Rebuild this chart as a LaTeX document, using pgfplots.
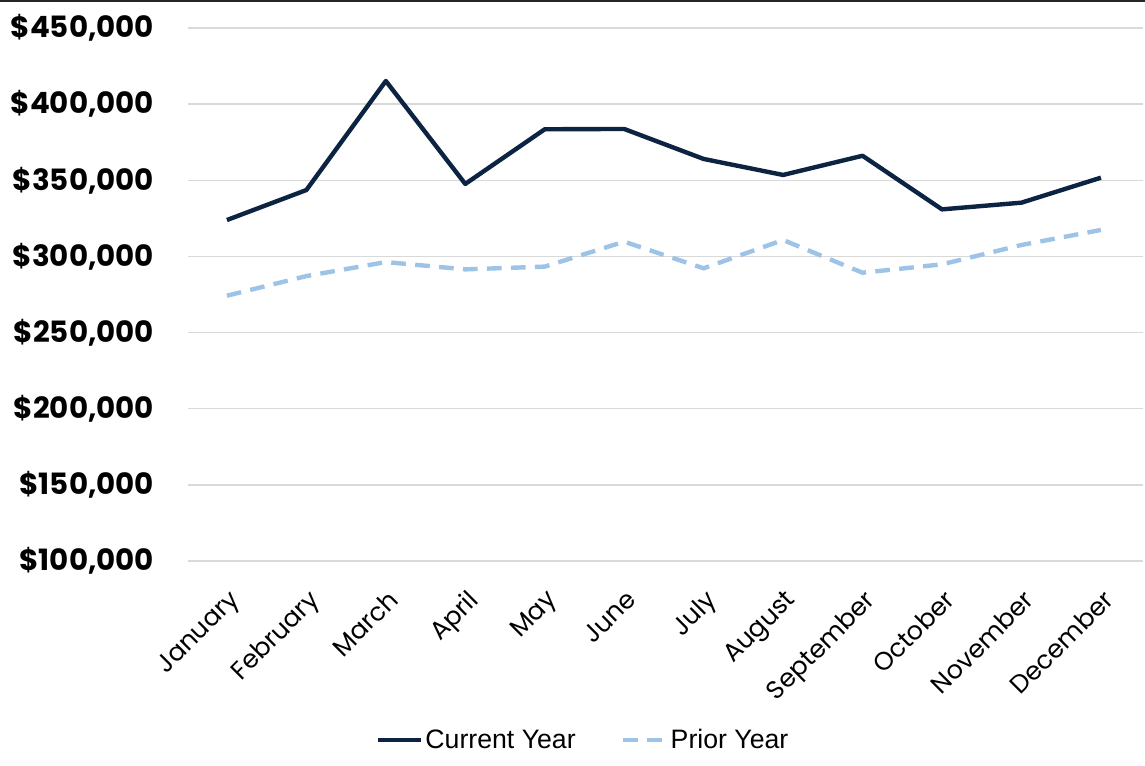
\documentclass[border=0pt]{standalone}
\usepackage{pgfplots}
\pgfplotsset{compat=1.18}
\usepackage{fontspec}
\setmainfont{Poppins}
\newfontfamily\legfont{Liberation Sans}
\definecolor{cur}{RGB}{12,35,66}
\definecolor{prior}{RGB}{157,195,230}
\definecolor{gridc}{RGB}{217,217,217}
\begin{document}
\begin{tikzpicture}
\path[use as bounding box] (-141pt,-153.75pt) rectangle (717.75pt,420.75pt);
\draw[line width=2pt, black!85] (-141pt,420pt) -- (717.75pt,420pt);
\begin{axis}[
  at={(0,0)}, anchor=south west,
  scale only axis, width=716.25pt, height=399.75pt,
  xmin=-0.49, xmax=11.53, ymin=100000, ymax=450000,
  axis line style={draw=none},
  xmajorgrids=false, ymajorgrids=true,
  y grid style={draw=gridc, line width=1.1pt},
  ytick={100000,150000,...,450000},
  scaled y ticks=false,
  major tick length=0pt,
  /pgf/number format/assume math mode=true,
  /pgf/number format/fixed, /pgf/number format/1000 sep={,},
  yticklabel={\$\pgfmathprintnumber{\tick}},
  yticklabel style={font=\fontsize{22}{25}\selectfont\bfseries, anchor=east, xshift=-22pt},
  xtick={0,...,11},
  xticklabels={January,February,March,April,May,June,July,August,September,October,November,December},
  xticklabel style={font=\fontsize{19}{21}\selectfont, rotate=45, anchor=north east, xshift=-10.6pt, yshift=-11.5pt},
  legend style={at={(axis description cs:0.414,-0.336)}, anchor=center, draw=none,
    legend columns=2, font=\legfont\fontsize{20}{23}\selectfont,
    nodes={inner xsep=2pt},
    /tikz/every even column/.append style={column sep=32pt}},
  legend image code/.code={\draw[#1] (0pt,0pt) -- (32pt,0pt);},
  clip=false,
]
\addplot[cur, line width=3.3pt, line join=round] coordinates {
(0,323900) (1,343600) (2,415200) (3,347600) (4,383500) (5,383700)
(6,364000) (7,353500) (8,366100) (9,330900) (10,335300) (11,351700)};
\addlegendentry{Current Year}
\addplot[prior, line width=3.3pt, dash pattern=on 11pt off 7pt] coordinates {
(0,274200) (1,287100) (2,296300) (3,291500) (4,293300) (5,309700)
(6,292200) (7,310800) (8,289300) (9,294800) (10,307500) (11,317400)};
\addlegendentry{Prior Year}
\end{axis}
\end{tikzpicture}
\end{document}
